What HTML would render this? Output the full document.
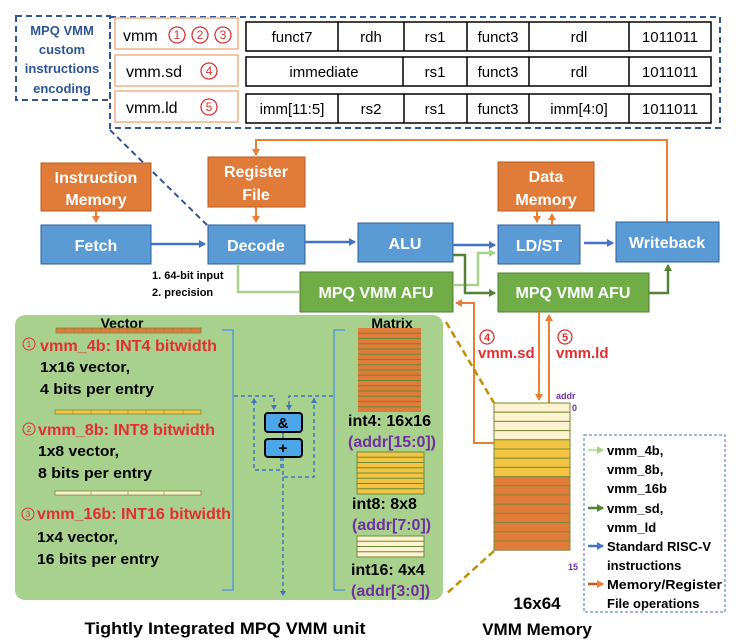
<!DOCTYPE html>
<html><head><meta charset="utf-8"><style>
html,body{margin:0;padding:0;background:#fff;}
svg{display:block;font-family:"Liberation Sans",sans-serif;}
.b{font-weight:bold;}
</style></head><body>
<svg width="740" height="644" viewBox="0 0 740 644" xmlns="http://www.w3.org/2000/svg">
<defs>
<marker id="ab" markerWidth="8" markerHeight="8" refX="6" refY="4" orient="auto" markerUnits="userSpaceOnUse"><path d="M0,0 L7,4 L0,8 z" fill="#4472c4"/></marker>
<marker id="ao" markerWidth="8" markerHeight="8" refX="6" refY="4" orient="auto" markerUnits="userSpaceOnUse"><path d="M0,0 L7,4 L0,8 z" fill="#ed7d31"/></marker>
<marker id="ag" markerWidth="8" markerHeight="8" refX="6" refY="4" orient="auto" markerUnits="userSpaceOnUse"><path d="M0,0 L7,4 L0,8 z" fill="#548235"/></marker>
<marker id="alg" markerWidth="8" markerHeight="8" refX="6" refY="4" orient="auto" markerUnits="userSpaceOnUse"><path d="M0,0 L7,4 L0,8 z" fill="#a9d18e"/></marker>
<marker id="asb" markerWidth="6" markerHeight="6" refX="5" refY="3" orient="auto" markerUnits="userSpaceOnUse"><path d="M0,0 L5,3 L0,6 z" fill="#4472c4"/></marker>
</defs>

<rect x="16" y="16" width="94" height="84" fill="none" stroke="#2f5597" stroke-width="2" stroke-dasharray="6,4"/>
<g class="b" fill="#2f5597" font-size="13" text-anchor="middle">
<text x="62" y="35">MPQ VMM</text><text x="62" y="54">custom</text><text x="62" y="73">instructions</text><text x="62" y="93">encoding</text></g>
<rect x="110" y="17" width="610" height="111" fill="none" stroke="#2f5597" stroke-width="2" stroke-dasharray="6,4"/>
<line x1="110" y1="130" x2="207" y2="225" stroke="#2f5597" stroke-width="2" stroke-dasharray="6,4"/>

<g fill="#fff" stroke="#f4b183" stroke-width="1.5">
<rect x="115" y="18" width="123" height="31"/><rect x="115" y="55" width="123" height="31"/><rect x="115" y="91" width="123" height="31"/></g>
<g font-size="16" fill="#000">
<text x="123" y="41">vmm</text><text x="126" y="77">vmm.sd</text><text x="126" y="113">vmm.ld</text></g>
<g fill="none" stroke="#e03030" stroke-width="1.3">
<circle cx="177" cy="35" r="8"/><circle cx="200" cy="35" r="8"/><circle cx="223" cy="35" r="8"/><circle cx="209" cy="71" r="8"/><circle cx="209" cy="107" r="8"/></g>
<g fill="#e03030" font-size="12" text-anchor="middle">
<text x="177" y="39">1</text><text x="200" y="39">2</text><text x="223" y="39">3</text><text x="209" y="75">4</text><text x="209" y="111">5</text></g>

<g fill="none" stroke="#000" stroke-width="1.5">
<rect x="246" y="22" width="465" height="29"/><rect x="246" y="57" width="465" height="29"/><rect x="246" y="94" width="465" height="29"/>
<path d="M338,22V51M404,22V51M467,22V51M529,22V51M629,22V51"/>
<path d="M403,57V86M467,57V86M529,57V86M629,57V86"/>
<path d="M338,94V123M404,94V123M467,94V123M529,94V123M629,94V123"/></g>
<g font-size="15" fill="#000" text-anchor="middle">
<text x="292" y="42">funct7</text><text x="371" y="42">rdh</text><text x="435" y="42">rs1</text><text x="498" y="42">funct3</text><text x="579" y="42">rdl</text><text x="670" y="42">1011011</text>
<text x="324" y="77">immediate</text><text x="435" y="77">rs1</text><text x="498" y="77">funct3</text><text x="579" y="77">rdl</text><text x="670" y="77">1011011</text>
<text x="292" y="114">imm[11:5]</text><text x="371" y="114">rs2</text><text x="435" y="114">rs1</text><text x="498" y="114">funct3</text><text x="579" y="114">imm[4:0]</text><text x="670" y="114">1011011</text></g>

<path d="M667,222V140H256V155" fill="none" stroke="#ed7d31" stroke-width="2" marker-end="url(#ao)"/>

<g stroke="#2e5d9a" stroke-width="1">
<rect x="41" y="163" width="110" height="48" fill="#e07b39" stroke="#b85c20"/>
<rect x="208" y="157" width="97" height="50" fill="#e07b39" stroke="#b85c20"/>
<rect x="498" y="162" width="96" height="49" fill="#e07b39" stroke="#b85c20"/>
<rect x="41" y="225" width="110" height="39" fill="#5b9bd5"/>
<rect x="208" y="225" width="97" height="39" fill="#5b9bd5"/>
<rect x="358" y="223" width="95" height="39" fill="#5b9bd5"/>
<rect x="498" y="225" width="82" height="39" fill="#5b9bd5"/>
<rect x="616" y="222" width="103" height="40" fill="#5b9bd5"/>
<rect x="300" y="272" width="153" height="40" fill="#70ad47" stroke="#507e32"/>
<rect x="498" y="273" width="151" height="39" fill="#70ad47" stroke="#507e32"/></g>
<g class="b" fill="#fff" font-size="16" text-anchor="middle">
<text x="96" y="183">Instruction</text><text x="96" y="205">Memory</text>
<text x="256" y="177">Register</text><text x="256" y="200">File</text>
<text x="546" y="182">Data</text><text x="546" y="205">Memory</text>
<text x="96" y="251">Fetch</text><text x="256" y="251">Decode</text><text x="405" y="249">ALU</text>
<text x="539" y="251">LD/ST</text><text x="667" y="248">Writeback</text>
<text x="376" y="298">MPQ VMM AFU</text><text x="573" y="298">MPQ VMM AFU</text></g>

<g fill="none" stroke-width="2.5">
<path d="M151,244H205" stroke="#4472c4" marker-end="url(#ab)"/>
<path d="M305,242H355" stroke="#4472c4" marker-end="url(#ab)"/>
<path d="M453,245H495" stroke="#4472c4" marker-end="url(#ab)"/>
<path d="M584,243H613" stroke="#4472c4" marker-end="url(#ab)"/>
<path d="M96,211V222" stroke="#ed7d31" stroke-width="2" marker-end="url(#ao)"/>
<path d="M256,207V222" stroke="#ed7d31" stroke-width="2" marker-end="url(#ao)"/>
<path d="M537,211V222" stroke="#ed7d31" stroke-width="2" marker-end="url(#ao)"/>
<path d="M552,225V214" stroke="#ed7d31" stroke-width="2" marker-end="url(#ao)"/>
<path d="M238,264V292H300" stroke="#a9d18e"/>
<path d="M453,285H478V253H495" stroke="#a9d18e" marker-end="url(#alg)"/>
<path d="M453,255H465V293H495" stroke="#548235" marker-end="url(#ag)"/>
<path d="M649,293H668V265" stroke="#548235" marker-end="url(#ag)"/>
<path d="M494,443H474V303H456" stroke="#ed7d31" stroke-width="2" marker-end="url(#ao)"/>
<path d="M539,312V400" stroke="#ed7d31" stroke-width="2" marker-end="url(#ao)"/>
<path d="M549,403V315" stroke="#ed7d31" stroke-width="2" marker-end="url(#ao)"/>
</g>
<g class="b" font-size="11" fill="#000"><text x="152" y="279">1. 64-bit input</text><text x="152" y="296">2. precision</text></g>

<g fill="none" stroke="#e03030" stroke-width="1.3"><circle cx="487" cy="337" r="7"/><circle cx="565" cy="337" r="7"/></g>
<g fill="#e03030" class="b"><text x="487" y="341" font-size="11" text-anchor="middle">4</text><text x="565" y="341" font-size="11" text-anchor="middle">5</text>
<text x="478" y="358" font-size="15">vmm.sd</text><text x="556" y="358" font-size="15">vmm.ld</text></g>

<g stroke="#7a8a3a" stroke-width="1">
<rect x="494" y="403" width="76" height="9.2" fill="#fdf3d0"/><rect x="494" y="412.2" width="76" height="9.2" fill="#fdf3d0"/><rect x="494" y="421.4" width="76" height="9.2" fill="#fdf3d0"/><rect x="494" y="430.6" width="76" height="9.2" fill="#fdf3d0"/>
<rect x="494" y="439.8" width="76" height="9.2" fill="#f4c542"/><rect x="494" y="449" width="76" height="9.2" fill="#f4c542"/><rect x="494" y="458.2" width="76" height="9.2" fill="#f4c542"/><rect x="494" y="467.4" width="76" height="9.2" fill="#f4c542"/>
<rect x="494" y="476.6" width="76" height="9.2" fill="#e07b39"/><rect x="494" y="485.8" width="76" height="9.2" fill="#e07b39"/><rect x="494" y="495" width="76" height="9.2" fill="#e07b39"/><rect x="494" y="504.2" width="76" height="9.2" fill="#e07b39"/>
<rect x="494" y="513.4" width="76" height="9.2" fill="#e07b39"/><rect x="494" y="522.6" width="76" height="9.2" fill="#e07b39"/><rect x="494" y="531.8" width="76" height="9.2" fill="#e07b39"/><rect x="494" y="541" width="76" height="9.2" fill="#e07b39"/></g>
<g fill="#7030a0" font-size="9" class="b"><text x="556" y="399">addr</text><text x="572" y="411">0</text><text x="568" y="570">15</text></g>
<g class="b" font-size="17" text-anchor="middle"><text x="537" y="609">16x64</text><text x="537" y="635">VMM Memory</text></g>

<g stroke="#bf9000" stroke-width="2.5" stroke-dasharray="7,4"><line x1="446" y1="322" x2="494" y2="403"/><line x1="494" y1="551" x2="445" y2="595"/></g>

<rect x="584" y="435" width="141" height="177" fill="none" stroke="#4472c4" stroke-width="1" stroke-dasharray="3,2"/>
<g stroke-width="2.5"><line x1="588" y1="450" x2="603" y2="450" stroke="#c5e0b4" marker-end="url(#alg)"/><line x1="588" y1="508" x2="603" y2="508" stroke="#548235" marker-end="url(#ag)"/><line x1="588" y1="546" x2="603" y2="546" stroke="#4472c4" marker-end="url(#ab)"/><line x1="588" y1="584" x2="603" y2="584" stroke="#c55a11" marker-end="url(#ao)"/></g>
<g class="b" font-size="13"><text x="607" y="455">vmm_4b,</text><text x="607" y="474">vmm_8b,</text><text x="607" y="493">vmm_16b</text><text x="607" y="513">vmm_sd,</text><text x="607" y="532">vmm_ld</text><text x="607" y="551">Standard RISC-V</text><text x="607" y="570">instructions</text><text x="607" y="589" textLength="115" lengthAdjust="spacingAndGlyphs">Memory/Register</text><text x="607" y="608">File operations</text></g>

<rect x="15" y="315" width="428" height="285" rx="10" fill="#a9d18e"/>
<g class="b" font-size="14" text-anchor="middle"><text x="122" y="328">Vector</text><text x="392" y="328">Matrix</text></g>
<rect x="56" y="328" width="145" height="5" fill="#e07b39" stroke="#7a8a3a" stroke-width="0.8"/>
<rect x="55" y="410" width="146" height="4" fill="#f4c542" stroke="#7a8a3a" stroke-width="0.8"/>
<rect x="55" y="491" width="146" height="4" fill="#fdf3d0" stroke="#7a8a3a" stroke-width="0.8"/>
<g stroke="#7a8a3a" stroke-width="0.6"><path d="M65,328v5M74,328v5M83,328v5M92,328v5M101,328v5M110,328v5M119,328v5M128,328v5M137,328v5M146,328v5M155,328v5M164,328v5M173,328v5M182,328v5M191,328v5"/><path d="M73,410v4M91,410v4M110,410v4M128,410v4M146,410v4M164,410v4M183,410v4"/><path d="M91,491v4M128,491v4M164,491v4"/></g>
<g fill="none" stroke="#e03030" stroke-width="1"><circle cx="29" cy="344" r="6"/><circle cx="29" cy="429" r="6"/><circle cx="28" cy="514" r="6"/></g>
<g fill="#e03030" font-size="8" text-anchor="middle"><text x="29" y="347">1</text><text x="29" y="432">2</text><text x="28" y="517">3</text></g>
<g class="b" font-size="16" fill="#e03030"><text x="40" y="351" textLength="177" lengthAdjust="spacingAndGlyphs">vmm_4b: INT4 bitwidth</text><text x="38" y="435" textLength="177" lengthAdjust="spacingAndGlyphs">vmm_8b: INT8 bitwidth</text><text x="37" y="519" textLength="194" lengthAdjust="spacingAndGlyphs">vmm_16b: INT16 bitwidth</text></g>
<g class="b" font-size="15" fill="#000"><text x="40" y="372" textLength="90" lengthAdjust="spacingAndGlyphs">1x16 vector,</text><text x="40" y="394" textLength="114" lengthAdjust="spacingAndGlyphs">4 bits per entry</text><text x="38" y="456" textLength="81" lengthAdjust="spacingAndGlyphs">1x8 vector,</text><text x="38" y="478" textLength="114" lengthAdjust="spacingAndGlyphs">8 bits per entry</text><text x="37" y="542" textLength="81" lengthAdjust="spacingAndGlyphs">1x4 vector,</text><text x="37" y="564" textLength="122" lengthAdjust="spacingAndGlyphs">16 bits per entry</text></g>

<g fill="none" stroke="#5b9bd5" stroke-width="1.5"><path d="M222,330H233V590H222"/><path d="M345,330H334V590H345"/></g>
<g fill="none" stroke="#4472c4" stroke-width="1.5" stroke-dasharray="4,3">
<path d="M234,396H274V410" marker-end="url(#asb)"/><path d="M333,396H289V410" marker-end="url(#asb)"/>
<path d="M281,457V470H254V398" marker-end="url(#asb)"/><path d="M283,457V477H314V398" marker-end="url(#asb)"/>
<path d="M283,477V596" marker-end="url(#asb)"/></g>
<line x1="283" y1="432" x2="283" y2="439" stroke="#4472c4" stroke-width="1.5"/>
<rect x="265" y="413" width="37" height="19" rx="3" fill="#4da6e8" stroke="#000" stroke-width="2"/>
<rect x="265" y="439" width="37" height="18" rx="3" fill="#4da6e8" stroke="#000" stroke-width="2"/>
<g class="b" font-size="15" text-anchor="middle"><text x="283" y="428">&amp;</text><text x="283" y="453">+</text></g>

<rect x="358" y="328" width="63" height="84" fill="#e07b39"/>
<g stroke="#6a8a3a" stroke-width="1"><path d="M358,333.3h63M358,338.5h63M358,343.8h63M358,349h63M358,354.3h63M358,359.5h63M358,364.8h63M358,370h63M358,375.3h63M358,380.5h63M358,385.8h63M358,391h63M358,396.3h63M358,401.5h63M358,406.8h63"/></g>
<rect x="357" y="452" width="67" height="42" fill="#f4c542" stroke="#6a8a3a"/>
<g stroke="#6a8a3a"><path d="M357,457.3h67M357,462.5h67M357,467.8h67M357,473h67M357,478.3h67M357,483.5h67M357,488.8h67"/></g>
<rect x="357" y="536" width="67" height="21" fill="#fdf3d0" stroke="#6a8a3a"/>
<g stroke="#6a8a3a"><path d="M357,541.3h67M357,546.5h67M357,551.8h67"/></g>
<g class="b" font-size="16"><text x="348" y="426" textLength="83" lengthAdjust="spacingAndGlyphs">int4: 16x16</text><text x="352" y="509">int8: 8x8</text><text x="351" y="575">int16: 4x4</text></g>
<g class="b" font-size="16" fill="#7030a0"><text x="348" y="447" textLength="88" lengthAdjust="spacingAndGlyphs">(addr[15:0])</text><text x="352" y="530">(addr[7:0])</text><text x="351" y="596">(addr[3:0])</text></g>

<text x="225" y="634" class="b" font-size="17" text-anchor="middle" textLength="281" lengthAdjust="spacingAndGlyphs">Tightly Integrated MPQ VMM unit</text>
</svg>
</body></html>
